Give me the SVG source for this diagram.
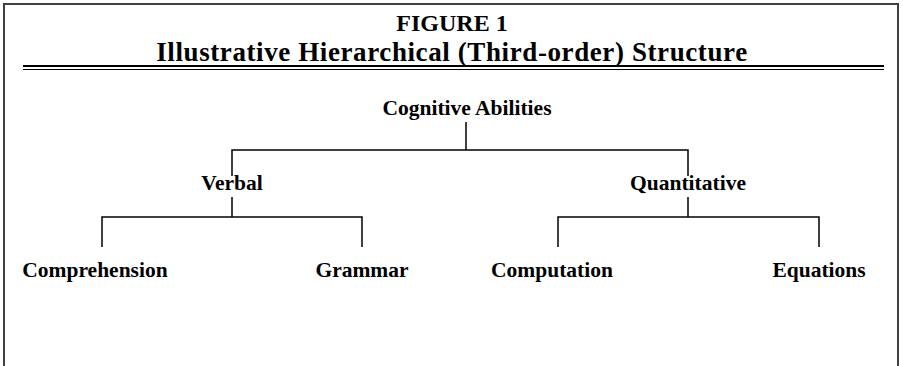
<svg xmlns="http://www.w3.org/2000/svg" width="903" height="366" viewBox="0 0 903 366">
<style>
text{font-family:"Liberation Serif","Times New Roman",serif;font-weight:bold;fill:#000;text-anchor:middle}
.t1{font-size:24px}
.t2{font-size:27px;letter-spacing:0.6px}
.n{font-size:21.5px}
.c{stroke:#000;stroke-width:1.5;fill:none}
.f{stroke:#404040;stroke-width:2;fill:none}
</style>
<rect width="903" height="366" fill="#fff"/>
<g id="frame">
<path class="f" d="M4,366 V4 H898 V366"/>
<line x1="23" y1="66" x2="884" y2="66" stroke="#000" stroke-width="2"/>
<line x1="23" y1="69.5" x2="884" y2="69.5" stroke="#000" stroke-width="1"/>
</g>
<g id="title">
<text class="t1" x="452" y="30.5">FIGURE 1</text>
<text class="t2" x="452" y="60.5">Illustrative Hierarchical (Third-order) Structure</text>
</g>
<g id="connectors">
<path class="c" d="M466,122 V150 M232,176 V150 H688 V176"/>
<path class="c" d="M232,197 V217 M102,247 V217 H362 V247"/>
<path class="c" d="M688,197 V217 M558,247 V217 H819 V247"/>
</g>
<g id="node-cognitive"><text class="n" x="467" y="115">Cognitive Abilities</text></g>
<g id="node-verbal"><text class="n" x="232" y="190">Verbal</text></g>
<g id="node-quantitative"><text class="n" x="688" y="190">Quantitative</text></g>
<g id="node-comprehension"><text class="n" x="95" y="277">Comprehension</text></g>
<g id="node-grammar"><text class="n" x="362" y="277">Grammar</text></g>
<g id="node-computation"><text class="n" x="552" y="277">Computation</text></g>
<g id="node-equations"><text class="n" x="819" y="277">Equations</text></g>
</svg>
